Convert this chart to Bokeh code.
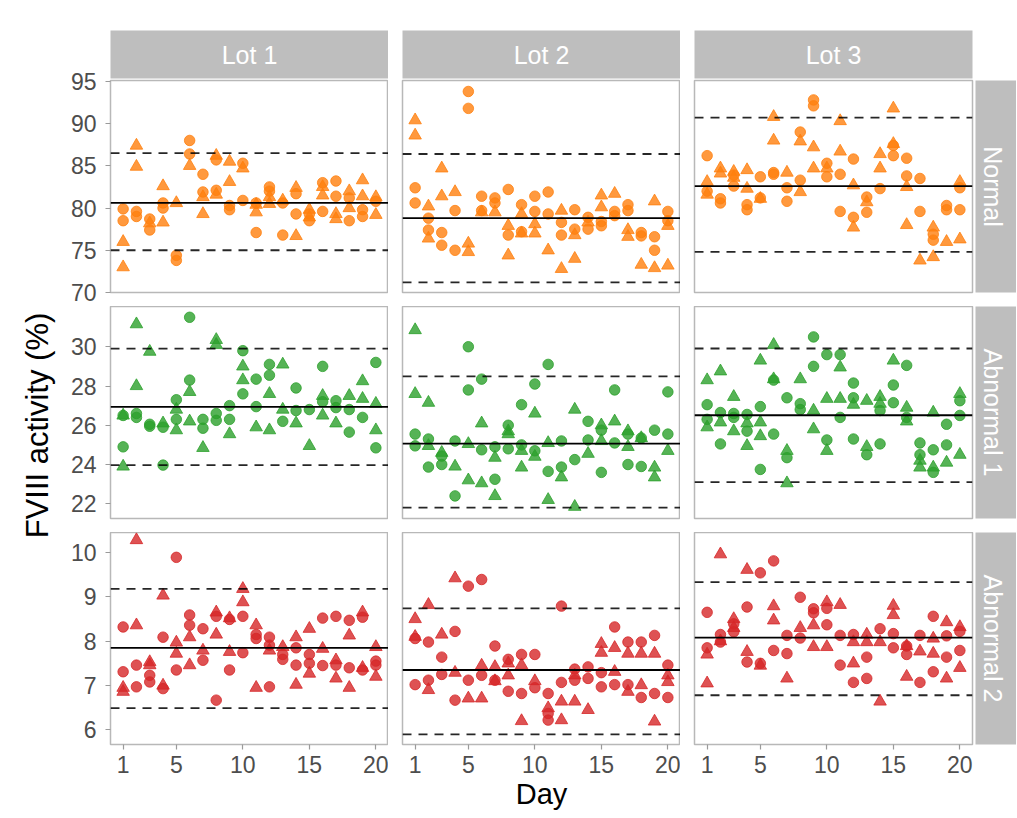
from math import pi
from bokeh.plotting import figure
from bokeh.layouts import row, column
from bokeh.models import Range1d, Span, ColumnDataSource
from bokeh.core.properties import value
from bokeh.embed import file_html
from bokeh.resources import INLINE

FONT = "Liberation Sans"

# ---------------- data ----------------
days = list(range(1, 21))
lots = ["Lot 1", "Lot 2", "Lot 3"]
levels = ["Normal", "Abnormal 1", "Abnormal 2"]
level_colors = ["#FF7F0E", "#2CA02C", "#D62728"]
x_ticks = [1, 5, 10, 15, 20]
y_ticks_normal = [70, 75, 80, 85, 90, 95]
y_ticks_abn1 = [22, 24, 26, 28, 30]
y_ticks_abn2 = [6, 7, 8, 9, 10]
y_limits_normal = [70.0, 95.1]
y_limits_abn1 = [21.25, 32.05]
y_limits_abn2 = [5.67, 10.45]
x_limits = [0.05, 20.95]

# Normal level (per day values: circles = run 1, triangles = run 2)
normal_lot1_circle = [[79.9, 78.5], [79.6, 79.0], [78.7, 77.4], [80.6, 80.0], [74.4, 73.8],
                      [88.0, 86.4], [84.0, 81.9], [85.7, 82.1], [80.3, 79.8], [85.3, 80.9],
                      [80.6, 77.1], [82.5, 82.0], [80.6, 76.8], [81.7, 79.3], [79.3, 78.5],
                      [83.0, 79.6], [83.2, 81.4], [81.2, 78.5], [79.8, 79.0], [80.8]]
normal_lot1_triangle = [[76.0, 73.0], [87.4, 84.9], [78.2], [82.6, 78.3], [80.6],
                        [85.0], [81.3, 79.3], [86.2, 81.6], [85.5, 83.1], [84.7],
                        [80.4, 79.5], [81.3, 80.5], [80.9], [82.4, 76.7], [79.8, 78.9],
                        [82.5, 81.5], [79.3, 78.7], [82.0, 80.0], [83.3, 81.4], [81.3, 79.2]]
normal_lot2_circle = [[82.4, 80.6], [78.8, 77.4], [77.1, 75.6], [79.7, 75.0], [93.8, 91.8],
                      [81.4, 79.7], [81.2, 80.6], [82.2, 76.8], [80.4, 77.2], [81.4, 79.6],
                      [81.9, 79.3], [78.3, 76.8], [79.8, 77.5], [78.9, 77.5], [78.4, 77.9],
                      [79.6, 79.1], [80.4, 79.7], [77.1, 76.7], [76.6, 75.0], [79.6, 78.5]]
normal_lot2_triangle = [[90.4, 88.6], [80.2, 76.4], [84.7, 81.4], [81.9], [75.8, 74.8],
                        [79.5], [79.5], [77.9, 74.4], [79.3, 77.0], [78.1, 77.0],
                        [75.0], [79.7, 72.8], [76.8, 74.0], [78.3], [81.5, 80.1],
                        [81.7], [77.4, 76.6], [73.3], [80.8, 72.9], [77.9, 73.2]]
normal_lot3_circle = [[86.2, 82.0], [81.1, 80.6], [83.9, 82.6], [80.4, 79.8], [83.7, 81.2],
                      [84.2, 84.0], [82.4, 80.8], [89.0, 83.3], [92.8, 92.1], [85.3, 83.7],
                      [84.0, 79.6], [85.8, 78.9], [81.3, 79.5], [82.3], [87.4, 86.2],
                      [85.9, 83.8], [83.5, 79.6], [76.9, 76.2], [80.3, 79.8], [82.4, 79.8]]
normal_lot3_triangle = [[83.1, 81.6], [84.7, 84.1], [84.3, 83.6], [84.5, 82.3], [81.1],
                        [90.8, 88.0], [84.2], [87.9, 81.9], [87.2, 84.7], [84.7],
                        [90.3, 86.7], [82.7, 77.7], [80.7], [86.4, 84.7], [91.8, 87.6],
                        [82.5, 78.0], [73.8], [77.7, 74.2], [76.0], [83.1, 76.3]]

# Abnormal 1 level
abn1_lot1_circle = [[26.5, 24.9], [26.6, 26.4], [26.05, 25.95], [25.9, 23.97], [27.3, 26.3],
                    [31.5, 28.3], [26.3, 25.85], [26.6, 26.25], [27.0, 26.3], [29.8, 27.6],
                    [28.35, 26.95], [29.1, 28.55], [26.2], [27.9, 26.75], [26.8],
                    [29.0, 27.2], [27.25, 26.9], [26.8, 25.65], [26.4], [29.2, 24.85]]
abn1_lot1_triangle = [[26.5, 23.9], [31.15, 28.0], [29.75], [26.1], [26.8, 25.75],
                      [27.7, 26.2], [24.85], [30.35, 30.1], [25.55], [29.0, 28.3],
                      [25.9], [27.6, 25.75], [29.1, 26.8], [26.1], [24.95],
                      [27.5, 26.5], [26.1], [27.5], [28.25, 27.35], [27.1, 25.75]]
abn1_lot2_circle = [[25.55, 24.95], [25.3, 23.87], [24.43, 24.0], [25.2, 22.4], [30.0, 27.8],
                    [28.35, 24.75], [24.9, 23.25], [26.0, 24.8], [27.05, 25.0], [28.1, 24.7],
                    [29.1, 23.65], [25.2, 23.87], [24.25], [26.2, 25.25], [25.75, 23.6],
                    [27.8, 25.1], [25.55, 24.0], [25.35, 23.9], [25.75], [27.7, 25.55]]
abn1_lot2_triangle = [[30.85, 27.6], [27.15, 24.95], [24.6], [23.9], [25.05, 23.2],
                      [26.1, 23.05], [24.35, 22.4], [25.7, 25.55], [24.7, 23.85], [26.6, 24.4],
                      [25.1, 22.2], [23.35], [26.8, 21.85], [24.55], [26.0, 25.2],
                      [26.2], [25.7, 24.9], [25.35], [23.85, 23.35], [24.7]]
abn1_lot3_circle = [[27.05, 26.3], [26.65, 25.05], [26.6, 26.4], [26.55, 25.7], [26.95, 23.75],
                    [28.3, 25.55], [27.4, 24.35], [27.1, 26.8], [30.5, 29.0], [29.6, 25.25],
                    [29.6, 26.4], [28.15, 27.4, 25.3], [24.5], [26.75, 25.05], [28.05, 27.15],
                    [29.05, 26.4], [25.1, 24.5], [24.75, 23.6], [26.05, 25.0], [27.25, 26.5]]
abn1_lot3_triangle = [[28.3, 25.9], [28.75, 26.15], [27.45, 25.7], [26.1, 24.95], [29.3, 26.15, 25.45],
                      [30.1, 28.35], [24.7, 23.05], [28.35], [26.75, 25.8], [27.35, 24.7],
                      [28.95, 27.35], [27.05], [27.25, 24.9], [27.45, 27.1], [29.3],
                      [26.9, 26.2], [24.2, 23.85], [26.65, 23.85], [24.1], [27.6, 24.5]]

# Abnormal 2 level
abn2_lot1_circle = [[8.32, 7.31], [7.46, 6.97], [7.23, 7.08], [8.09, 6.93], [9.89, 7.35],
                    [8.59, 8.36], [8.28, 7.57], [8.56, 6.67], [8.49, 7.35], [8.56, 7.74],
                    [8.15, 8.06], [8.09, 7.91, 6.97], [7.70, 7.59], [7.85, 7.46], [7.70, 7.50],
                    [8.52, 7.45], [8.56, 7.46], [8.47, 7.40], [8.54, 7.35], [7.55, 7.46]]
abn2_lot1_triangle = [[6.95, 6.86], [10.28, 8.36], [7.53, 7.46], [9.03, 7.0], [7.97, 7.72],
                      [8.09, 7.46], [7.79], [8.65, 8.15], [8.52, 7.76], [9.18, 8.88],
                      [8.36, 6.95], [7.79], [7.87], [8.09, 7.02], [8.28, 7.27],
                      [7.83], [7.57, 7.16], [8.13, 6.95], [8.65, 7.40], [7.87, 7.20]]
abn2_lot2_circle = [[8.06, 7.02], [7.98, 7.12], [7.64, 7.25], [8.22, 6.67], [9.24, 7.12],
                    [9.39, 7.23], [7.89, 7.12], [7.59, 6.87], [7.70, 6.82], [7.70, 6.95],
                    [6.82, 6.37, 6.22], [8.79, 7.07], [7.37, 7.12], [7.42, 7.16], [7.29, 6.97],
                    [8.32, 7.02], [7.98, 7.02], [7.98, 6.73], [8.13, 6.82], [7.46, 6.73]]
abn2_lot2_triangle = [[8.50, 8.10], [8.82, 6.90], [8.15], [9.42, 7.29], [6.71],
                      [7.45, 6.71], [7.42, 7.10], [7.50, 7.23], [7.46, 6.20], [7.10],
                      [6.49], [6.64, 6.22], [7.23, 6.64], [6.45], [7.94, 7.74],
                      [7.85, 7.31], [7.72, 6.86], [7.72, 7.01], [7.72, 6.19], [7.23, 7.08]]
abn2_lot3_circle = [[8.65, 7.85], [8.15, 7.98], [8.39, 8.21], [8.77, 7.53], [9.54, 7.50],
                    [9.81, 7.79], [8.13, 7.72], [8.99, 8.07], [8.73, 8.64], [8.74, 8.37],
                    [8.13, 7.46], [8.15, 7.07], [7.64, 7.16], [8.28], [8.17, 7.85],
                    [7.89, 7.70], [8.13, 7.07], [8.56, 7.31], [8.12, 7.64], [8.22, 7.79]]
abn2_lot3_triangle = [[7.70, 7.05], [9.96, 8.0], [8.50, 8.30], [9.61, 7.76], [7.45],
                      [8.79, 8.47], [7.16], [8.30], [8.36, 7.87], [8.88, 7.87],
                      [8.82], [7.98, 7.50], [8.15, 7.98], [7.98, 6.64], [8.80, 8.59],
                      [7.89, 7.20], [7.77], [8.06, 7.72], [8.43, 7.16], [8.32, 7.40]]

# reference lines (mean, upper limit, lower limit) per lot
mean_normal = [80.6, 78.8, 82.6]
upper_normal = [86.5, 86.4, 90.7]
lower_normal = [75.0, 71.2, 74.8]
mean_abn1 = [26.94, 25.06, 26.51]
upper_abn1 = [29.9, 28.49, 29.91]
lower_abn1 = [23.97, 21.8, 23.1]
mean_abn2 = [7.85, 7.35, 8.08]
upper_abn2 = [9.18, 8.74, 9.33]
lower_abn2 = [6.49, 5.90, 6.78]

# ---------------- assembly ----------------
circles = [[normal_lot1_circle, normal_lot2_circle, normal_lot3_circle],
           [abn1_lot1_circle, abn1_lot2_circle, abn1_lot3_circle],
           [abn2_lot1_circle, abn2_lot2_circle, abn2_lot3_circle]]
triangles = [[normal_lot1_triangle, normal_lot2_triangle, normal_lot3_triangle],
             [abn1_lot1_triangle, abn1_lot2_triangle, abn1_lot3_triangle],
             [abn2_lot1_triangle, abn2_lot2_triangle, abn2_lot3_triangle]]
means = [mean_normal, mean_abn1, mean_abn2]
uppers = [upper_normal, upper_abn1, upper_abn2]
lowers = [lower_normal, lower_abn1, lower_abn2]
y_limits = [y_limits_normal, y_limits_abn1, y_limits_abn2]
y_ticks = [y_ticks_normal, y_ticks_abn1, y_ticks_abn2]


def flatten(per_day):
    xs, ys = [], []
    for d, vals in zip(days, per_day):
        for v in vals:
            xs.append(d)
            ys.append(v)
    return ColumnDataSource(data=dict(day=xs, val=ys))


FRAME_W, FRAME_H = 278, 212
STRIP = "#BEBEBE"
BORDER = "#B8B8B8"
TICK_LABEL = "#4D4D4D"
TICK_SIZE = "23px"
STRIP_SIZE = "25px"
ROW_BOTTOM = [14, 14, 72]
ROW_TOP = [10, 0, 0]
OVERLAP = 10
YLAB_W = 60


def borders(c):
    left = 110 - YLAB_W if c == 0 else 14
    right = 3 if c == 2 else 0
    return left, right


def panel(r, c):
    left, right = borders(c)
    p = figure(frame_width=FRAME_W, frame_height=FRAME_H,
               x_range=Range1d(*x_limits), y_range=Range1d(*y_limits[r]),
               min_border_left=left, min_border_right=right,
               min_border_top=ROW_TOP[r], min_border_bottom=ROW_BOTTOM[r],
               output_backend="svg", toolbar_location=None)
    p.grid.visible = False
    p.outline_line_color = BORDER
    p.outline_line_width = 1.5
    p.background_fill_color = "white"
    p.border_fill_alpha = 0
    for ax in (p.xaxis[0], p.yaxis[0]):
        ax.axis_line_color = None
        ax.major_tick_line_color = "#9A9A9A"
        ax.major_tick_line_width = 1.2
        ax.major_tick_out = 5
        ax.major_tick_in = 0
        ax.minor_tick_line_color = None
        ax.major_label_text_color = TICK_LABEL
        ax.major_label_text_font = FONT
        ax.major_label_text_font_size = TICK_SIZE
    p.xaxis.ticker = x_ticks
    p.yaxis.ticker = y_ticks[r]
    p.yaxis.major_label_standoff = 9
    p.xaxis.major_label_standoff = 6
    if c != 0:
        p.yaxis.visible = False
    if r != 2:
        p.xaxis.visible = False
    if r == 2 and c == 1:
        p.xaxis.axis_label = "Day"
        p.xaxis.axis_label_text_font = FONT
        p.xaxis.axis_label_text_font_size = "29px"
        p.xaxis.axis_label_text_font_style = "normal"
        p.xaxis.axis_label_text_color = "black"
        p.xaxis.axis_label_standoff = 2

    col = level_colors[r]
    p.scatter("day", "val", source=flatten(circles[r][c]), marker="circle", size=10.5,
              fill_color=col, line_color=col, fill_alpha=0.8, line_alpha=0.8)
    p.scatter("day", "val", source=flatten(triangles[r][c]), marker="triangle", size=12.5,
              fill_color=col, line_color=col, fill_alpha=0.8, line_alpha=0.8)

    p.add_layout(Span(location=means[r][c], dimension="width",
                      line_color="black", line_width=1.8))
    for loc in (uppers[r][c], lowers[r][c]):
        p.add_layout(Span(location=loc, dimension="width", line_color="black",
                          line_width=1.8, line_dash="9 7", line_alpha=0.85))
    return p


def top_strip(c):
    left, right = borders(c)
    s = figure(frame_width=FRAME_W, frame_height=48,
               x_range=Range1d(0, 1), y_range=Range1d(0, 1),
               min_border_left=left, min_border_right=right,
               min_border_top=30, min_border_bottom=2,
               output_backend="svg", toolbar_location=None)
    s.axis.visible = False
    s.grid.visible = False
    s.outline_line_color = None
    s.border_fill_alpha = 0
    s.background_fill_color = STRIP
    s.text(x=[0.5], y=[0.5], text=[lots[c]], text_align="center", text_baseline="middle",
           text_color="white", text_font=value(FONT), text_font_size=STRIP_SIZE)
    return s


def right_strip(r):
    s = figure(frame_width=41, frame_height=FRAME_H,
               x_range=Range1d(0, 1), y_range=Range1d(0, 1),
               min_border_left=0, min_border_right=0,
               min_border_top=ROW_TOP[r], min_border_bottom=ROW_BOTTOM[r],
               output_backend="svg", toolbar_location=None)
    s.axis.visible = False
    s.grid.visible = False
    s.outline_line_color = None
    s.border_fill_alpha = 0
    s.background_fill_color = STRIP
    s.text(x=[0.42], y=[0.5], text=[levels[r]], angle=-pi / 2,
           text_align="center", text_baseline="middle",
           text_color="white", text_font=value(FONT), text_font_size=STRIP_SIZE)
    return s


YLAB_H = 80 + 226 + 226 + 212 + 72
ylab = figure(frame_width=YLAB_W, frame_height=YLAB_H, x_range=Range1d(0, YLAB_W), y_range=Range1d(0, YLAB_H),
              min_border_left=0, min_border_right=0, min_border_top=0, min_border_bottom=0,
              output_backend="svg", toolbar_location=None)
ylab.axis.visible = False
ylab.grid.visible = False
ylab.outline_line_color = None
ylab.border_fill_alpha = 0
ylab.background_fill_alpha = 0
ylab.text(x=[37], y=[YLAB_H - 425], text=["FVIII activity (%)"], angle=pi / 2,
          text_align="center", text_baseline="middle", text_color="black",
          text_font=value(FONT), text_font_size="31px")

top_row = row([top_strip(c) for c in range(3)])
panel_rows = []
for r in range(3):
    kids = [panel(r, c) for c in range(3)] + [right_strip(r)]
    if r == 0:
        panel_rows.append(row(kids, margin=(-OVERLAP, 0, 0, 0)))
    else:
        panel_rows.append(row(kids))
layout = row([ylab, column([top_row] + panel_rows)])

open("out.html", "w").write(file_html(layout, INLINE))
